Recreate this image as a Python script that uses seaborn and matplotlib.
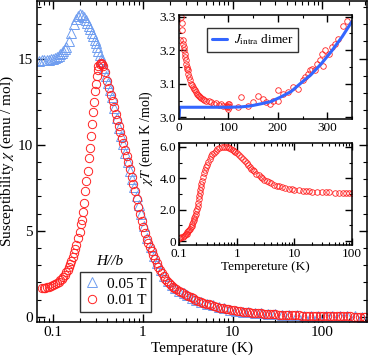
import numpy as np
import pandas as pd
import matplotlib
matplotlib.use("Agg")
import matplotlib.pyplot as plt
import seaborn as sns
from matplotlib.ticker import FixedLocator, FixedFormatter, LogLocator, MultipleLocator, NullFormatter
from matplotlib.lines import Line2D

# ---------------- data ----------------
# main panel, H//b, 0.01 T (red circles)
t_red = [0.075, 0.078, 0.081, 0.085, 0.09, 0.095, 0.10, 0.105, 0.11, 0.115, 0.12, 0.125,
         0.13, 0.135, 0.14, 0.145, 0.15, 0.155, 0.16, 0.165, 0.17, 0.175, 0.18, 0.19,
         0.20, 0.205, 0.21, 0.215, 0.22, 0.227, 0.235, 0.245, 0.252, 0.258, 0.265, 0.272,
         0.28, 0.287, 0.295, 0.30, 0.31, 0.315, 0.32, 0.33, 0.34, 0.35,
         0.36, 0.38, 0.40, 0.42, 0.44, 0.46, 0.48, 0.50, 0.52, 0.54, 0.56, 0.58, 0.60,
         0.63, 0.66, 0.69, 0.72, 0.75, 0.78, 0.81, 0.85, 0.89, 0.93, 0.97, 1.0, 1.05,
         1.1, 1.15, 1.2, 1.25, 1.3, 1.36, 1.42, 1.48, 1.55, 1.62, 1.7, 1.78, 1.86, 1.95,
         2.05, 2.15, 2.25, 2.35, 2.5, 2.65, 2.8, 3.0, 3.2, 3.4, 3.6, 3.85, 4.1, 4.4, 4.7,
         5.0, 5.4, 5.8, 6.2, 6.7, 7.2, 7.8, 8.4, 9.0, 9.7, 10.5, 11.3, 12.2, 13.2, 14.2,
         15.3, 16.5, 17.8, 19.2, 20.7, 22.3, 24, 26, 28, 30, 33, 36, 39, 42, 46, 50, 55,
         60, 66, 72, 79, 86, 94, 103, 112, 122, 133, 145, 158, 172, 188, 205, 224, 244,
         266, 290, 300]
chi_red = [1.68, 1.68, 1.70, 1.72, 1.75, 1.78, 1.85, 1.90, 1.98, 2.05, 2.12, 2.20,
           2.30, 2.45, 2.60, 2.75, 2.90, 3.05, 3.25, 3.45, 3.70, 3.95, 4.20, 4.60,
           4.90, 5.40, 5.60, 6.10, 6.60, 7.30, 7.90, 8.50, 9.20, 9.80, 10.5, 11.2,
           11.9, 12.5, 13.1, 13.5, 14.0, 14.35, 14.55, 14.7, 14.75, 14.7,
           14.6, 14.2, 13.7, 13.3, 12.9, 12.55, 12.2, 11.8, 11.45, 11.1, 10.75, 10.4, 10.1,
           9.7, 9.35, 9.0, 8.6, 8.15, 7.7, 7.3, 6.85, 6.4, 6.0, 5.55, 5.2, 4.85,
           4.55, 4.3, 4.06, 3.82, 3.6, 3.35, 3.12, 2.9, 2.7, 2.52, 2.36, 2.22, 2.08, 1.96,
           1.85, 1.76, 1.68, 1.61, 1.52, 1.44, 1.37, 1.28, 1.20, 1.13, 1.07, 1.00, 0.94, 0.88, 0.82,
           0.77, 0.72, 0.67, 0.62, 0.58, 0.54, 0.50, 0.46, 0.43, 0.40, 0.37, 0.34, 0.32, 0.30, 0.28,
           0.26, 0.245, 0.23, 0.215, 0.20, 0.185, 0.17, 0.16, 0.15, 0.14, 0.125, 0.115, 0.105, 0.10, 0.09, 0.085, 0.078,
           0.072, 0.066, 0.06, 0.055, 0.05, 0.046, 0.042, 0.038, 0.035, 0.032, 0.029, 0.026, 0.024, 0.022, 0.02, 0.018, 0.017,
           0.016, 0.014, 0.014]

# main panel, H//b, 0.05 T (blue triangles)
t_blue = [0.07, 0.075, 0.08, 0.085, 0.09, 0.095, 0.10, 0.105, 0.11, 0.115, 0.12, 0.125,
          0.13, 0.135, 0.14, 0.15, 0.16, 0.17, 0.18, 0.19, 0.20, 0.21, 0.22, 0.23, 0.24,
          0.25, 0.26, 0.27, 0.28, 0.29, 0.30, 0.31, 0.32, 0.33, 0.34, 0.35, 0.37, 0.39,
          0.41, 0.43, 0.45, 0.48, 0.51, 0.54, 0.57, 0.60, 0.64, 0.68, 0.72, 0.76, 0.80,
          0.85, 0.90, 0.95, 1.02, 1.12, 1.22, 1.33, 1.45, 1.58, 1.73, 1.9, 2.1, 2.3, 2.55,
          2.85, 3.1, 3.5, 3.95, 4.5, 5.2, 6.0, 7.0, 8.1, 9.4, 11, 13, 15, 18, 21, 25, 30,
          36, 43, 52, 62, 75, 90, 110, 130, 160, 190, 230, 280]
chi_blue = [14.85, 14.9, 14.95, 14.9, 14.95, 15.0, 15.0, 15.05, 15.1, 15.15, 15.25, 15.35,
            15.45, 15.55, 15.7, 16.0, 16.5, 17.0, 17.3, 17.5, 17.6, 17.55, 17.4, 17.25, 17.1,
            16.9, 16.7, 16.5, 16.3, 16.1, 15.9, 15.7, 15.45, 15.2, 15.0, 14.85, 14.45, 14.0,
            13.6, 13.2, 12.8, 12.15, 11.55, 11.0, 10.5, 10.05, 9.5, 9.0, 8.5, 8.0, 7.55,
            7.0, 6.5, 6.0, 5.3, 4.6, 4.05, 3.55, 3.1, 2.7, 2.38, 2.08, 1.85, 1.68, 1.52,
            1.37, 1.26, 1.12, 1.0, 0.88, 0.77, 0.67, 0.57, 0.49, 0.42, 0.36, 0.31, 0.27, 0.225, 0.195, 0.165, 0.14,
            0.118, 0.098, 0.082, 0.069, 0.058, 0.048, 0.04, 0.034, 0.028, 0.024, 0.02, 0.016]

# inset 1: chi*T vs T (linear), and dimer fit
t_in1 = [2, 5, 6, 7, 8, 9, 10, 11, 12, 13, 14, 15, 16, 17, 18, 19, 20, 22, 24, 26, 28, 30,
         32, 34, 36, 38, 40, 42, 45, 48, 50, 55, 60, 65, 70, 75, 80, 85, 90, 95, 98, 99,
         100, 100, 101, 102, 120, 125, 140, 150, 160, 170, 175, 185, 190, 200, 200, 210,
         220, 230, 240, 250, 255, 260, 265, 270, 275, 280, 285, 290, 292, 295, 304, 310,
         315, 322, 332, 339]
chit_in1 = [3.23, 3.30, 3.28, 3.26, 3.23, 3.22, 3.21, 3.20, 3.19, 3.18, 3.17, 3.16, 3.15,
            3.145, 3.14, 3.13, 3.12, 3.11, 3.10, 3.095, 3.09, 3.085, 3.08, 3.075, 3.07,
            3.068, 3.065, 3.06, 3.058, 3.055, 3.052, 3.05, 3.048, 3.045, 3.04, 3.042, 3.038,
            3.04, 3.035, 3.035, 3.03, 3.04, 3.025, 3.035, 3.03, 3.04, 3.03, 3.06, 3.035,
            3.045, 3.065, 3.055, 3.045, 3.04, 3.05, 3.08, 3.05, 3.07, 3.075, 3.09, 3.085,
            3.11, 3.12, 3.13, 3.14, 3.145, 3.14, 3.16, 3.17, 3.19, 3.152, 3.20, 3.19, 3.21,
            3.22, 3.233, 3.271, 3.286]
t_fit = [0, 1.5, 50, 100, 125, 145, 165, 186, 205, 227, 245, 267, 288, 308, 330, 350]
chit_fit = [3.0, 3.03, 3.03, 3.03, 3.031, 3.034, 3.04, 3.047, 3.06, 3.077, 3.10, 3.127,
            3.16, 3.196, 3.24, 3.286]

# inset 2: chi*T vs T (log)
t_in2 = [0.1, 0.105, 0.11, 0.115, 0.12, 0.125, 0.13, 0.135, 0.14, 0.145, 0.15, 0.155, 0.16,
         0.165, 0.17, 0.175, 0.18, 0.185, 0.19, 0.195, 0.2, 0.205, 0.21, 0.215, 0.22, 0.225,
         0.23, 0.235, 0.24, 0.245, 0.25, 0.26, 0.27, 0.28, 0.29, 0.30, 0.32, 0.34, 0.36,
         0.38, 0.40, 0.43, 0.46, 0.50, 0.55, 0.60, 0.65, 0.70, 0.75, 0.80, 0.85, 0.90, 0.95,
         1.0, 1.1, 1.2, 1.3, 1.4, 1.5, 1.6, 1.7, 1.8, 1.9, 2.0, 2.2, 2.4, 2.6, 2.8, 3.0,
         3.3, 3.6, 4.0, 4.5, 5.0, 5.5, 6.0, 7.0, 8.0, 9.0, 10, 12, 14, 16, 18, 20, 25, 30,
         35, 40, 50, 60, 70, 80, 90, 100]
chit_in2 = [0.2, 0.22, 0.25, 0.28, 0.32, 0.36, 0.42, 0.48, 0.55, 0.62, 0.7, 0.78, 0.87,
            0.97, 1.08, 1.2, 1.32, 1.45, 1.6, 1.75, 1.9, 2.05, 2.25, 2.45, 2.65, 2.85,
            3.05, 3.25, 3.45, 3.65, 3.85, 4.1, 4.35, 4.55, 4.72, 4.85, 5.05, 5.25, 5.4,
            5.52, 5.62, 5.75, 5.85, 5.93, 5.98, 6.0, 6.0, 5.98, 5.93, 5.88, 5.82, 5.76, 5.7,
            5.63, 5.5, 5.36, 5.22, 5.08, 4.95, 4.83, 4.72, 4.62, 4.53, 4.45, 4.3, 4.18, 4.08,
            3.99, 3.92, 3.83, 3.76, 3.68, 3.6, 3.54, 3.49, 3.45, 3.39, 3.34, 3.3, 3.27, 3.23,
            3.2, 3.18, 3.16, 3.15, 3.13, 3.12, 3.11, 3.1, 3.09, 3.08, 3.08, 3.07, 3.07, 3.07]

main_xticks = [0.1, 1, 10, 100]
main_xticklabels = ["0.1", "1", "10", "100"]
main_yticks = [0, 5, 10, 15]
in1_xticks = [0, 100, 200, 300]
in1_yticks = [3.0, 3.1, 3.2, 3.3]
in1_yticklabels = ["3.0", "3.1", "3.2", "3.3"]
in2_yticks = [0, 2, 4, 6]
in2_yticklabels = ["0", "2.0", "4.0", "6.0"]

RED = "#ff2222"
BLUE = "#6f9df0"
FIT = "#3366ff"

# ---------------- style ----------------
sns.set_theme(style="ticks")
plt.rcParams.update({
    "font.family": ["Liberation Serif", "DejaVu Serif"],
    "mathtext.fontset": "stix",
    "axes.linewidth": 1.1,
    "axes.edgecolor": "black",
    "xtick.direction": "in",
    "ytick.direction": "in",
    "xtick.top": True,
    "ytick.right": True,
    "xtick.color": "black",
    "ytick.color": "black",
    "text.color": "black",
    "axes.labelcolor": "black",
})

df_red = pd.DataFrame({"T": t_red, "chi": chi_red})
df_blue = pd.DataFrame({"T": t_blue, "chi": chi_blue})
df_in1 = pd.DataFrame({"T": t_in1, "chiT": chit_in1})
df_fit = pd.DataFrame({"T": t_fit, "chiT": chit_fit})
df_in2 = pd.DataFrame({"T": t_in2, "chiT": chit_in2})

fig = plt.figure(figsize=(3.68, 3.6), dpi=100)

# ---------------- main axes ----------------
ax = fig.add_axes([37 / 368, 1 - 322 / 360, 330 / 368, 321 / 360])
ax.set_xscale("log")
sns.lineplot(data=df_blue, x="T", y="chi", ax=ax, estimator=None, sort=False,
             marker="^", linestyle="", markersize=6.5, markerfacecolor="none",
             markeredgecolor=BLUE, markeredgewidth=0.7, color=BLUE)
sns.lineplot(data=df_red, x="T", y="chi", ax=ax, estimator=None, sort=False,
             marker="o", linestyle="", markersize=6, markerfacecolor="none",
             markeredgecolor=RED, markeredgewidth=0.7, color=RED)
ax.set_xlim(0.066, 316)
ax.set_ylim(-0.3, 18.35)
ax.xaxis.set_major_locator(FixedLocator(main_xticks))
ax.xaxis.set_major_formatter(FixedFormatter(main_xticklabels))
ax.xaxis.set_minor_locator(LogLocator(base=10, subs=np.arange(2, 10), numticks=20))
ax.xaxis.set_minor_formatter(NullFormatter())
ax.yaxis.set_major_locator(FixedLocator(main_yticks))
ax.yaxis.set_minor_locator(MultipleLocator(1))
ax.tick_params(which="major", length=6, width=1, labelsize=11, pad=3)
ax.tick_params(which="minor", length=3, width=0.8)
ax.set_xlabel("Temperature (K)", fontsize=11, labelpad=2)
ax.set_ylabel(r"Susceptibility $\chi$ (emu / mol)", fontsize=11)
ax.yaxis.set_label_coords((16 - 37) / 330, 0.5)

handles = [Line2D([], [], marker="^", linestyle="", markersize=6.5, markerfacecolor="none",
                  markeredgecolor=BLUE, markeredgewidth=0.7),
           Line2D([], [], marker="o", linestyle="", markersize=6, markerfacecolor="none",
                  markeredgecolor=RED, markeredgewidth=0.7)]
leg = ax.legend(handles, ["0.05 T", "0.01 T"], loc="lower left",
                bbox_to_anchor=(0.13, 0.031), borderaxespad=0, fancybox=False,
                frameon=True, edgecolor="black", fontsize=11, handlelength=1.0,
                handletextpad=0.5, borderpad=0.3, labelspacing=0.2)
leg.get_frame().set_linewidth(1.0)
ax.text(0.22, 0.19, "H//b", transform=ax.transAxes, fontsize=11, style="italic",
        ha="center", va="center")

# ---------------- inset 1 ----------------
ax1 = fig.add_axes([179 / 368, 1 - 119 / 360, 173 / 368, 104 / 360])
ax1.set_facecolor("white")
sns.lineplot(data=df_in1, x="T", y="chiT", ax=ax1, estimator=None, sort=False,
             marker="o", linestyle="", markersize=4, markerfacecolor="none",
             markeredgecolor=RED, markeredgewidth=0.6, color=RED)
sns.lineplot(data=df_fit, x="T", y="chiT", ax=ax1, estimator=None, sort=False,
             color=FIT, linewidth=2.2)
ax1.set_xlim(0, 350)
ax1.set_ylim(2.995, 3.305)
ax1.xaxis.set_major_locator(FixedLocator(in1_xticks))
ax1.xaxis.set_minor_locator(MultipleLocator(50))
ax1.yaxis.set_major_locator(FixedLocator(in1_yticks))
ax1.yaxis.set_major_formatter(FixedFormatter(in1_yticklabels))
ax1.yaxis.set_minor_locator(MultipleLocator(0.05))
ax1.tick_params(which="major", length=5, width=1, labelsize=9.5, pad=2)
ax1.tick_params(which="minor", length=2.5, width=0.8)
ax1.set_xlabel("")
ax1.set_ylabel("")
fit_handle = [Line2D([], [], color=FIT, linewidth=2.2)]
leg1 = ax1.legend(fit_handle, [r"$J_{\rm intra}$ dimer"], loc="upper left",
                  bbox_to_anchor=(0.162, 0.875), borderaxespad=0, fancybox=False,
                  frameon=True, edgecolor="black", fontsize=9.5, handlelength=1.2,
                  handletextpad=0.5, borderpad=0.35)
leg1.get_frame().set_linewidth(1.0)

# ---------------- inset 2 ----------------
ax2 = fig.add_axes([179 / 368, 1 - 245 / 360, 173 / 368, 102 / 360])
ax2.set_facecolor("white")
ax2.set_xscale("log")
sns.lineplot(data=df_in2, x="T", y="chiT", ax=ax2, estimator=None, sort=False,
             marker="o", linestyle="", markersize=4, markerfacecolor="none",
             markeredgecolor=RED, markeredgewidth=0.6, color=RED)
ax2.set_xlim(0.1, 100)
ax2.set_ylim(-0.25, 6.25)
ax2.xaxis.set_major_locator(FixedLocator(main_xticks[:4]))
ax2.xaxis.set_major_formatter(FixedFormatter(main_xticklabels[:4]))
ax2.xaxis.set_minor_locator(LogLocator(base=10, subs=np.arange(2, 10), numticks=20))
ax2.xaxis.set_minor_formatter(NullFormatter())
ax2.yaxis.set_major_locator(FixedLocator(in2_yticks))
ax2.yaxis.set_major_formatter(FixedFormatter(in2_yticklabels))
ax2.yaxis.set_minor_locator(MultipleLocator(1))
ax2.tick_params(which="major", length=5, width=1, labelsize=9.5, pad=2)
ax2.tick_params(which="minor", length=2.5, width=0.8)
ax2.set_xlabel("Tempereture (K)", fontsize=9.5, labelpad=1)
ax2.set_ylabel("")

fig.text(146 / 368, 1 - 138 / 360, r"$\chi T$ (emu K /mol)", rotation=90,
         ha="center", va="center", fontsize=10)

fig.savefig("out.png", dpi=100)
